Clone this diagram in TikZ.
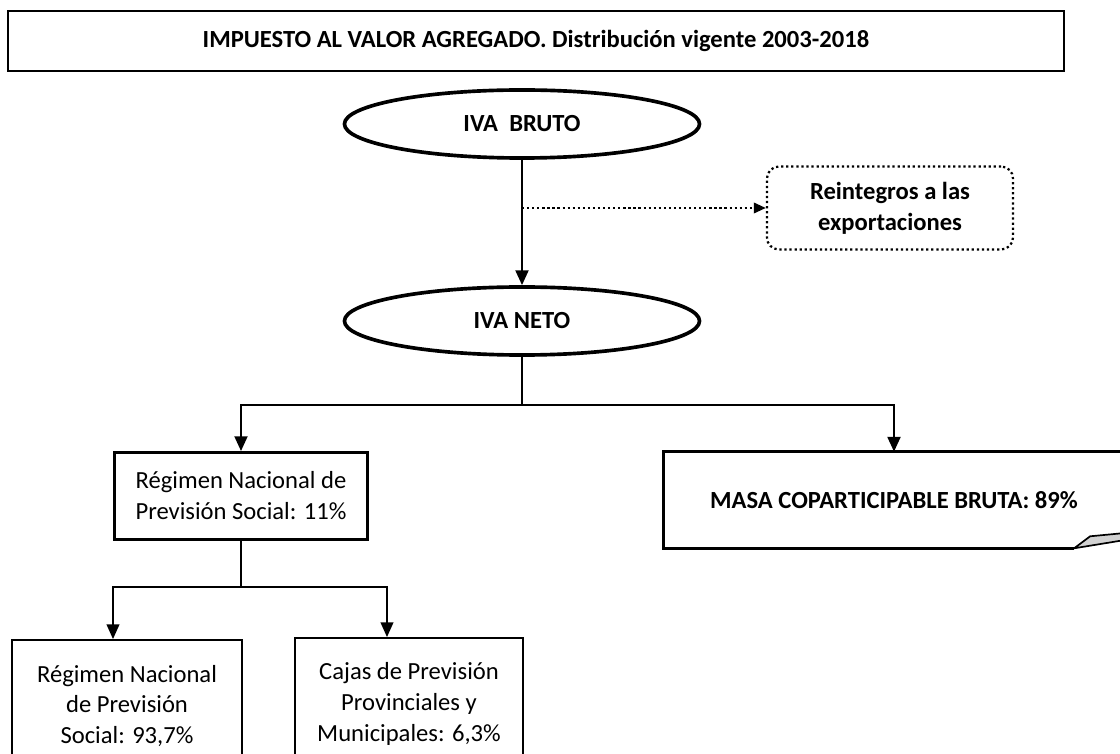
\documentclass[tikz,border=0pt]{standalone}
\usepackage{fontspec}
\setmainfont{Carlito}
\usetikzlibrary{arrows.meta,positioning,shapes,calc}

\begin{document}
\begin{tikzpicture}[
		x=0.025cm,y=-0.025cm,
		every node/.append style={align=center,font=\fontsize{17.5}{22}\selectfont},
		oval/.style={draw,ellipse,line width=2.6pt,minimum width=8.875cm,minimum height=1.7cm,font=\fontsize{17.5}{22}\selectfont\bfseries},
		box/.style={draw,rectangle,line width=1.3pt},
		flow/.style={line width=1.8pt,-{Triangle[length=0.37cm,width=0.32cm]}}
	]
	\useasboundingbox (0,0) rectangle (1120,754);
	\node[box,minimum width=26.4cm,minimum height=1.5cm,font=\fontsize{17.5}{22}\selectfont\bfseries] (title) at (536,41) {IMPUESTO AL VALOR AGREGADO. Distribución vigente 2003-2018};
	\node[oval] (bruto) at (522,124) {IVA~~BRUTO};
	\node[oval] (neto) at (522,321) {IVA NETO};
	\node[draw,dotted,line width=1.6pt,rounded corners=0.3cm,minimum width=6.15cm,minimum height=2.075cm,font=\fontsize{17.5}{22}\selectfont\bfseries] (reint) at (890,208) {Reintegros a las\\exportaciones};
	\draw[flow] (bruto.south) -- (neto.north);
	\coordinate (split) at (bruto.south |- reint.west);
	\draw[dotted,line width=1.6pt,-{Triangle[length=0.3cm,width=0.26cm]}] (split) -- (reint.west);
	% reparto del IVA neto
	\node[box,line width=2pt,minimum width=6.325cm,minimum height=2.175cm] (rnps) at (241,496) {Régimen Nacional de\\Previsión Social: 11\%};
	\node[minimum width=11.525cm,minimum height=2.4cm,font=\fontsize{17.5}{22}\selectfont\bfseries] (masa) at (894,500) {MASA COPARTICIPABLE BRUTA: 89\%};
	\draw[line width=2.2pt] (masa.north east) -- (masa.north west) -- (masa.south west) -- ++(411,0) coordinate (fold);
	\draw[line width=1.2pt,fill=gray!35,line join=round] (fold) -- ++(16,-12) -- (1125,533) -- (1125,540) -- cycle;
	\coordinate (j) at (neto.south |- 0,405);
	\draw[line width=1.8pt] (neto.south) -- (j);
	\draw[flow] (j) -| (rnps.north);
	\draw[flow] (j) -| (masa.north);
	% reparto del 11%
	\node[box,minimum width=5.75cm,minimum height=3.3cm] (rn) at (127,706) {Régimen Nacional\\de Previsión\\Social: 93,7\%};
	\node[box,minimum width=5.7cm,minimum height=3.3cm] (cajas) at (409,704) {Cajas de Previsión\\Provinciales y\\Municipales: 6,3\%};
	\coordinate (k) at (rnps.south |- 0,587);
	\draw[line width=1.2pt] (rnps.south) -- (k);
	\draw[flow,line width=1.2pt] (k) -| ([xshift=-0.35cm]rn.north);
	\draw[flow,line width=1.2pt] (k) -| ([xshift=-0.55cm]cajas.north);
\end{tikzpicture}
\end{document}
